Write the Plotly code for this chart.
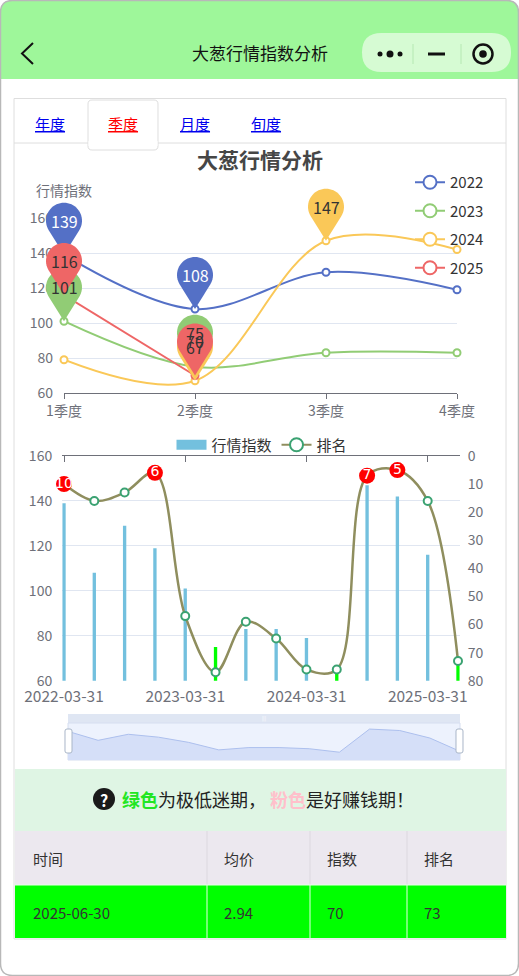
import math
import plotly.graph_objects as go

W, H = 519, 976

# ---- chart 1: quarterly index per year ----
quarters = ["1季度", "2季度", "3季度", "4季度"]
years = ["2022", "2023", "2024", "2025"]
idx_2022 = [139, 108, 129, 119]
idx_2023 = [101, 75, 83, 83]
idx_2024 = [79, 67, 147, 142]
idx_2025 = [116, 70]
year_colors = ["#5470c6", "#91cc75", "#fac858", "#ee6666"]
pin_text_colors = ["white", "#333", "#333", "#333"]

# ---- chart 2: index + rank per quarter ----
dates = ["2022-03-31", "2022-06-30", "2022-09-30", "2022-12-31",
         "2023-03-31", "2023-06-30", "2023-09-30", "2023-12-31",
         "2024-03-31", "2024-06-30", "2024-09-30", "2024-12-31",
         "2025-03-31", "2025-06-30"]
index_values = [139, 108, 129, 119, 101, 75, 83, 83, 79, 67, 147, 142, 116, 70]
rank_values = [10, 16, 13, 6, 57, 77, 59, 65, 76, 76, 7, 5, 16, 73]
date_ticks = ["2022-03-31", "2023-03-31", "2024-03-31", "2025-03-31"]

# ---- page bits ----
tabs = ["年度", "季度", "月度", "旬度"]
active_tab = "季度"
table_header = ["时间", "均价", "指数", "排名"]
table_row = ["2025-06-30", "2.94", "70", "73"]

FONT = "Noto Sans CJK SC, Noto Sans, sans-serif"
AXIS_GRAY = "#6e7079"
GRID = "#e0e6f1"


def px(x):
    return x / W


def py(y):
    return 1 - y / H


shapes = []
annotations = []


def rect(x0, y0, x1, y1, fill="rgba(0,0,0,0)", line=None, lw=1, layer="below"):
    shapes.append(dict(type="rect", xref="paper", yref="paper",
                       x0=px(x0), x1=px(x1), y0=py(y1), y1=py(y0),
                       fillcolor=fill, layer=layer,
                       line=dict(color=line or "rgba(0,0,0,0)", width=lw if line else 0)))


def rrect(x0, y0, x1, y1, r, fill="rgba(0,0,0,0)", line=None, lw=1, layer="below"):
    p = lambda x, y: f"{px(x):.5f},{py(y):.5f}"
    path = (f"M{p(x0 + r, y0)} L{p(x1 - r, y0)} Q{p(x1, y0)} {p(x1, y0 + r)} "
            f"L{p(x1, y1 - r)} Q{p(x1, y1)} {p(x1 - r, y1)} "
            f"L{p(x0 + r, y1)} Q{p(x0, y1)} {p(x0, y1 - r)} "
            f"L{p(x0, y0 + r)} Q{p(x0, y0)} {p(x0 + r, y0)} Z")
    shapes.append(dict(type="path", xref="paper", yref="paper", path=path,
                       fillcolor=fill, layer=layer,
                       line=dict(color=line or "rgba(0,0,0,0)", width=lw if line else 0)))


def seg(x0, y0, x1, y1, color, w=1, layer="below"):
    shapes.append(dict(type="line", xref="paper", yref="paper",
                       x0=px(x0), x1=px(x1), y0=py(y0), y1=py(y1),
                       line=dict(color=color, width=w), layer=layer))


def circ(cx, cy, r, fill="rgba(0,0,0,0)", line=None, lw=1, layer="below"):
    shapes.append(dict(type="circle", xref="paper", yref="paper",
                       x0=px(cx - r), x1=px(cx + r), y0=py(cy + r), y1=py(cy - r),
                       fillcolor=fill, layer=layer,
                       line=dict(color=line or "rgba(0,0,0,0)", width=lw if line else 0)))


def label(x, y, s, size=14, color="#333", xanchor="center"):
    annotations.append(dict(xref="paper", yref="paper", x=px(x), y=py(y), text=s,
                            showarrow=False, xanchor=xanchor, yanchor="middle",
                            font=dict(size=size, color=color, family=FONT)))


def pin_path(r=18, h=34, n=40):
    th = math.acos(r / h)
    a0 = th - math.pi / 2
    a1 = 3 * math.pi / 2 - th
    pts = [(0, 0)]
    for k in range(n + 1):
        a = a0 + (a1 - a0) * k / n
        pts.append((r * math.cos(a), h + r * math.sin(a)))
    return "M" + " L".join(f"{x:.2f},{y:.2f}" for x, y in pts) + " Z"


# ---------- page chrome ----------
rrect(0.5, 0.5, 518.5, 79, 12, fill="#9ef79a")
rect(0, 60, 519, 79, fill="#9ef79a")
rrect(362, 33, 511, 72, 19.5, fill="#d6fbd3")
circ(380, 54, 2.5, fill="#111")
circ(390, 54, 3.5, fill="#111")
circ(400, 54, 2.5, fill="#111")
seg(413, 44, 413, 64, "#b5e8b2", 1)
seg(461, 44, 461, 64, "#b5e8b2", 1)
seg(428, 54, 445, 54, "#111", 3)
circ(483, 54, 9.5, line="#111", lw=2.5)
circ(483, 54, 3.8, fill="#111")
shapes.append(dict(type="path", xref="paper", yref="paper", layer="below",
                   path=f"M{px(33)},{py(43)} L{px(22)},{py(53.5)} L{px(33)},{py(64)}",
                   line=dict(color="#111", width=2)))
label(260, 53, "大葱行情指数分析", 17, "#111")

# card + tabs
rect(14, 98.5, 506, 939, line="#dedede")
seg(14, 143, 88, 143, "#dedede")
seg(158, 143, 506, 143, "#dedede")
rrect(88, 100, 158, 150, 4, fill="white", line="#dedede")
rect(88.5, 141, 157.5, 146, fill="white")
tab_x = [50, 123, 195, 266]
for t, tx in zip(tabs, tab_x):
    label(tx, 124, f"<u>{t}</u>", 15, "#ff0000" if t == active_tab else "#0000ee")

label(260, 159, "<b>大葱行情分析</b>", 21, "#464646")
label(64, 190, "行情指数", 14, AXIS_GRAY)

# slider chrome
rect(68, 714, 460, 723, fill="#dfe6f3")
rect(68, 723, 460, 760, fill="#edf2fd", line="#d6def0")
label(264, 718, "|||", 5, "#ffffff")

# info strip
rect(15, 769, 506, 831, fill="#dff5e4")
circ(104, 799, 11, fill="#1a1a1a")
label(104, 799.5, "<b>?</b>", 16, "white")
label(268, 799,
      '<b><span style="color:#22e622">绿色</span></b>为极低迷期， '
      '<b><span style="color:#ffc0cb">粉色</span></b>是好赚钱期！', 18, "#222")

# table
col_edges = [15, 207, 310, 407, 506]
rect(15, 831, 506, 885, fill="#ece8ef")
rect(15, 885, 506, 938, fill="#00ff00")
for cx in col_edges[1:-1]:
    seg(cx, 831, cx, 885, "#dcd8df")
    seg(cx, 885, cx, 938, "#e6ffe6")
seg(15, 885, 506, 885, "#e6ffe6")
for i, (hd, val) in enumerate(zip(table_header, table_row)):
    x0 = col_edges[i] + (16 if i == 0 else 15)
    label(x0, 858, hd, 15, "#333", "left")
    label(x0, 912, val, 15, "#333", "left")

rrect(0.5, 0.5, 518.5, 975.5, 12, line="#b8b8b8", lw=1.5, layer="above")

# ---------- chart 1 ----------
fig = go.Figure()
series = [idx_2022, idx_2023, idx_2024, idx_2025]
for name, vals, col in zip(years, series, year_colors):
    fig.add_trace(go.Scatter(
        x=list(range(len(vals))), y=vals, mode="lines+markers",
        line=dict(color=col, width=2, shape="spline", smoothing=1),
        marker=dict(size=7, color="white", line=dict(color=col, width=2)),
        cliponaxis=False, showlegend=False, hoverinfo="skip",
        xaxis="x", yaxis="y"))
for name, col in zip(years, year_colors):
    fig.add_trace(go.Scatter(
        x=[None], y=[None], mode="lines+markers", name=name,
        line=dict(color=col, width=2),
        marker=dict(size=13, color="white", line=dict(color=col, width=2)),
        legend="legend", legendgroup=name, xaxis="x5", yaxis="y5"))

# pins for max / min of each year
pin_shape = pin_path()
for vals, col, tcol in zip(series, year_colors, pin_text_colors):
    for i in (vals.index(max(vals)), vals.index(min(vals))):
        shapes.append(dict(type="path", xref="x5", yref="y5",
                           xsizemode="pixel", ysizemode="pixel",
                           xanchor=i, yanchor=vals[i], path=pin_shape,
                           fillcolor=col, line=dict(width=0), layer="above"))
for vals, col, tcol in zip(series, year_colors, pin_text_colors):
    for i in (vals.index(max(vals)), vals.index(min(vals))):
        annotations.append(dict(xref="x5", yref="y5", x=i, y=vals[i], yshift=34,
                                text=str(vals[i]), showarrow=False,
                                font=dict(size=16, color=tcol, family=FONT)))

# ---------- chart 2 ----------
bar_colors = ["#00ff00" if v < 76 else "#73c0de" for v in index_values]
fig.add_trace(go.Bar(x=dates, y=index_values, marker=dict(color=bar_colors, line=dict(width=0)),
                     width=0.11, showlegend=False, hoverinfo="skip", xaxis="x2", yaxis="y2"))
fig.add_trace(go.Scatter(
    x=dates, y=rank_values, mode="lines+markers",
    line=dict(color="#8f8e5e", width=2.5, shape="spline", smoothing=1),
    marker=dict(size=8, color="white", line=dict(color="#3ba272", width=2)),
    cliponaxis=False, showlegend=False, hoverinfo="skip", xaxis="x2", yaxis="y3"))
top_dates = [d for d, r in zip(dates, rank_values) if r <= 10]
top_ranks = [r for r in rank_values if r <= 10]
fig.add_trace(go.Scatter(
    x=top_dates, y=top_ranks, mode="markers+text", text=[str(r) for r in top_ranks],
    textposition="middle center",
    textfont=dict(size=14, color="white", family="Arial Black, DejaVu Sans, sans-serif"),
    marker=dict(size=16, color="#ff0000"),
    cliponaxis=False, showlegend=False, hoverinfo="skip", xaxis="x2", yaxis="y3"))
fig.add_trace(go.Scatter(x=[None], y=[None], showlegend=False, xaxis="x4", yaxis="y2"))

# legend entries for chart 2 (thick line gives the wide bar-style swatch)
fig.add_trace(go.Scatter(x=[None], y=[None], mode="lines", name="行情指数",
                         line=dict(color="#73c0de", width=16),
                         legend="legend2", xaxis="x5", yaxis="y5"))
fig.add_trace(go.Scatter(
    x=[None], y=[None], mode="lines+markers", name="排名",
    line=dict(color="#8f8e5e", width=2),
    marker=dict(size=13, color="white", line=dict(color="#3ba272", width=2)),
    legend="legend2", xaxis="x5", yaxis="y5"))

# slider preview
fig.add_trace(go.Scatter(x=dates, y=index_values, mode="lines", fill="tozeroy",
                         line=dict(color="#adc0ee", width=1), fillcolor="#d5dff8",
                         showlegend=False, hoverinfo="skip", xaxis="x3", yaxis="y4"))

rrect(65, 729, 72, 753, 2, fill="white", line="#a9b6c8", layer="above")
rrect(456, 729, 463, 753, 2, fill="white", line="#a9b6c8", layer="above")

# ---------- geometry ----------
u1 = (457 - 64) / 3          # px per quarter, chart 1
v1 = (393 - 218) / 100       # px per unit, chart 1
u2 = (458 - 64) / 13         # px per quarter, chart 2
pad2 = 0.06
pin_xr = [-0.35, 3.35]
pin_yr = [60, 190]

tick_font = dict(size=14, color=AXIS_GRAY, family=FONT)
date_font = dict(size=15.5, color=AXIS_GRAY, family=FONT)
base = dict(automargin=False, fixedrange=True, zeroline=False)

fig.update_layout(
    template="none",
    width=W, height=H, margin=dict(l=0, r=0, t=0, b=0, pad=0),
    paper_bgcolor="white", plot_bgcolor="rgba(0,0,0,0)",
    font=dict(family=FONT), barmode="overlay",
    shapes=shapes, annotations=annotations,
    xaxis=dict(base, domain=[px(64), px(457)], range=[0, 3], tickvals=[0, 1, 2, 3], ticktext=quarters,
               showline=True, linecolor=AXIS_GRAY, ticks="outside", ticklen=5, tickcolor=AXIS_GRAY,
               showgrid=False, tickfont=tick_font, anchor="y"),
    yaxis=dict(base, domain=[py(393), py(218)], range=[60, 160], tickvals=[60, 80, 100, 120, 140, 160],
               showgrid=True, gridcolor=GRID, showline=False, ticks="",
               tickfont=tick_font, ticklabelstandoff=10, anchor="x"),
    xaxis5=dict(base, domain=[px(64 + pin_xr[0] * u1), px(457 + (pin_xr[1] - 3) * u1)], range=pin_xr,
                visible=False, anchor="y5"),
    yaxis5=dict(base, domain=[py(393), py(393 - (pin_yr[1] - 60) * v1)], range=pin_yr,
                visible=False, anchor="x5"),
    xaxis2=dict(base, domain=[px(64 - pad2 * u2), px(458 + pad2 * u2)], type="category",
                categoryarray=dates, range=[-pad2, 13 + pad2],
                tickvals=date_ticks, ticktext=date_ticks, showline=False, ticks="",
                showgrid=False, tickfont=date_font, ticklabelstandoff=5, anchor="y2"),
    xaxis4=dict(base, overlaying="x2", side="top", type="category", categoryarray=dates,
                range=[-pad2, 13 + pad2], tickvals=date_ticks, showticklabels=False,
                showline=True, linecolor=AXIS_GRAY, ticks="inside", ticklen=6, tickcolor=AXIS_GRAY,
                showgrid=False, anchor="y2"),
    yaxis2=dict(base, domain=[py(680.7), py(456)], range=[60, 160], tickvals=[60, 80, 100, 120, 140, 160],
                showgrid=True, gridcolor=GRID, showline=False, ticks="",
                tickfont=tick_font, ticklabelstandoff=9, anchor="x2"),
    yaxis3=dict(base, overlaying="y2", side="right", range=[80, 0], tickvals=list(range(0, 81, 10)),
                showgrid=False, showline=False, ticks="", tickfont=tick_font,
                ticklabelstandoff=7, anchor="x2"),
    xaxis3=dict(base, domain=[px(68), px(460)], type="category", categoryarray=dates, range=[0, 13],
                visible=False, anchor="y4"),
    yaxis4=dict(base, domain=[py(760), py(723)], range=[40, 168], visible=False, anchor="x3"),
    legend=dict(x=px(410), y=py(166), xanchor="left", yanchor="top", bgcolor="rgba(0,0,0,0)",
                font=dict(size=15, color="#333", family=FONT), tracegroupgap=6, itemwidth=30),
    legend2=dict(orientation="h", x=px(262), xanchor="center", y=py(445), yanchor="middle",
                 bgcolor="rgba(0,0,0,0)", font=dict(size=15, color="#333", family=FONT)),
)

# page margin off so the figure sits at the window's top-left corner
fig.write_html("out.html", config={"displayModeBar": False},
               post_script="document.body.style.margin='0';")
